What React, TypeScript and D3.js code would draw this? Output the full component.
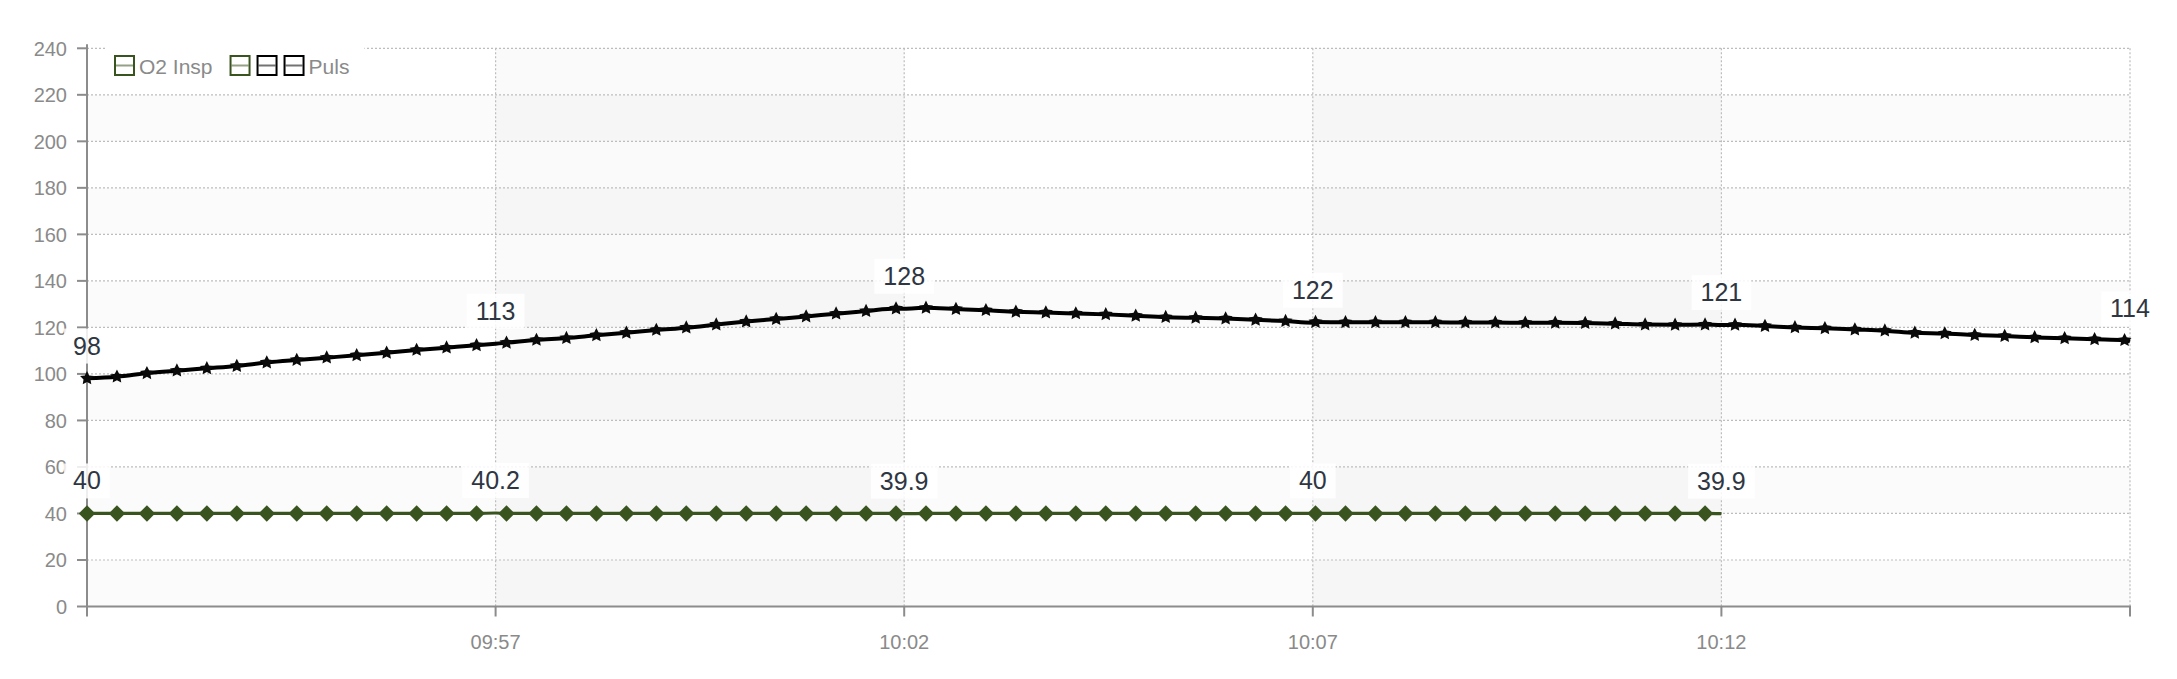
import * as d3 from 'd3'

// sample times (every 22 s)
const SAMPLE_TIMES = [
  '09:52:00', '09:52:22', '09:52:44', '09:53:06', '09:53:28', '09:53:50', '09:54:12', '09:54:34',
  '09:54:56', '09:55:18', '09:55:40', '09:56:02', '09:56:24', '09:56:46', '09:57:08', '09:57:30',
  '09:57:52', '09:58:14', '09:58:36', '09:58:58', '09:59:20', '09:59:42', '10:00:04', '10:00:26',
  '10:00:48', '10:01:10', '10:01:32', '10:01:54', '10:02:16', '10:02:38', '10:03:00', '10:03:22',
  '10:03:44', '10:04:06', '10:04:28', '10:04:50', '10:05:12', '10:05:34', '10:05:56', '10:06:18',
  '10:06:40', '10:07:02', '10:07:24', '10:07:46', '10:08:08', '10:08:30', '10:08:52', '10:09:14',
  '10:09:36', '10:09:58', '10:10:20', '10:10:42', '10:11:04', '10:11:26', '10:11:48', '10:12:10',
  '10:12:32', '10:12:54', '10:13:16', '10:13:38', '10:14:00', '10:14:22', '10:14:44', '10:15:06',
  '10:15:28', '10:15:50', '10:16:12', '10:16:34', '10:16:56',
]

const PULS = [
  98.1, 98.8, 100.3, 101.4, 102.4, 103.4, 104.9, 106, 107, 108, 109.1, 110.3, 111.3, 112.3,
  113.4, 114.6, 115.4, 116.6, 117.7, 118.9, 119.9, 121.2, 122.5, 123.6, 124.7, 125.9, 127,
  128.1, 128.4, 127.9, 127.4, 126.7, 126.4, 126, 125.6, 125, 124.4, 124.1, 123.8, 123.3, 122.7,
  122.3, 122.2, 122.2, 122.2, 122.2, 122.1, 122.1, 122, 122, 121.9, 121.6, 121.2, 121.1,
  121.2, 121.1, 120.6, 120, 119.6, 119.1, 118.6, 117.7, 117.4, 116.7, 116.3, 115.7, 115.3,
  114.9, 114.5,
]

const O2_INSP = [
  40, 40, 40, 40, 40, 40, 40, 40, 40, 40, 40, 40, 40, 40, 40, 40, 40, 40, 40, 40,
  40, 40, 40, 40, 40, 40, 40, 40, 40, 40, 40, 40, 40, 40, 40, 40, 40, 40, 40, 40,
  40, 40, 40, 40, 40, 40, 40, 40, 40, 40, 40, 40, 40, 40, 40,
]

const TICK_TIMES = ['09:52:00', '09:57:00', '10:02:00', '10:07:00', '10:12:00', '10:17:00']
const TICK_LABELS = ['', '09:57', '10:02', '10:07', '10:12', '']
const PULS_LABELS = [98, 113, 128, 122, 121, 114]
const O2_LABELS = [40, 40.2, 39.9, 40, 39.9]
const Y_TICKS = [0, 20, 40, 60, 80, 100, 120, 140, 160, 180, 200, 220, 240]

const LEGEND_NAMES = ['O2 Insp', '', '', 'Puls']

const GREEN = '#3a5420'
const BLACK = '#000000'
const LEGEND_COLORS = [GREEN, GREEN, BLACK, BLACK]
const FONT = '"Liberation Sans", Arial, sans-serif'

const parse = d3.timeParse('%H:%M:%S')

const canvas = document.createElement('canvas')
function textWidth(s: string, size: number) {
  const ctx = canvas.getContext('2d')!
  ctx.font = `${size}px "Liberation Sans"`
  return ctx.measureText(s).width
}

// chunkier five-point star than d3.symbolStar
const boldStar = {
  draw(ctx: any, size: number) {
    const r = Math.sqrt(size) * 0.75
    const ri = r * 0.5
    for (let i = 0; i < 10; i++) {
      const a = (Math.PI / 5) * i - Math.PI / 2
      const rr = i % 2 === 0 ? r : ri
      const px = Math.cos(a) * rr
      const py = Math.sin(a) * rr
      if (i === 0) ctx.moveTo(px, py)
      else ctx.lineTo(px, py)
    }
    ctx.closePath()
  },
}

function buildSeries(values: number[], labels: number[]) {
  const samples = values.map((v, i) => ({ t: parse(SAMPLE_TIMES[i])!, v }))
  const labelPts = labels.map((v, i) => ({ t: parse(TICK_TIMES[i])!, v }))
  const extra = labelPts.filter((l) => !samples.some((s) => +s.t === +l.t))
  const merged = [...samples, ...extra].sort((a, b) => +a.t - +b.t)
  return { samples, labelPts, merged }
}

export default function App() {
  const width = 2177
  const height = 679
  const left = 87
  const right = 2130
  const top = 48.3
  const bottom = 606.5

  const x = d3
    .scaleTime()
    .domain([parse(TICK_TIMES[0])!, parse(TICK_TIMES[TICK_TIMES.length - 1])!])
    .range([left, right])
  const y = d3.scaleLinear().domain([0, 240]).range([bottom, top])

  const puls = buildSeries(PULS, PULS_LABELS)
  const o2 = buildSeries(O2_INSP, O2_LABELS)

  const line = d3
    .line<{ t: Date; v: number }>()
    .x((d) => x(d.t))
    .y((d) => y(d.v))
    .curve(d3.curveMonotoneX)

  const star = d3.symbol(boldStar as any, 95)()!
  const square = d3.symbol(d3.symbolSquare, 135)()!

  const tickDates = TICK_TIMES.map((t) => parse(t)!)

  // legend layout
  let lx = 114
  const legendItems = LEGEND_NAMES.map((name, i) => {
    const item = { name, color: LEGEND_COLORS[i], x: lx }
    lx += 21 + (name ? 4 + textWidth(name, 21) + 17 : 6)
    return item
  })

  const renderLabels = (pts: { t: Date; v: number }[]) =>
    pts.map((d, i) => {
      const cx = x(d.t)
      const by = y(d.v) - 24
      const txt = String(d.v)
      const w = textWidth(txt, 25) + 18
      return (
        <g key={i}>
          <rect x={cx - w / 2} y={by - 26} width={w} height={35} fill='rgba(255,255,255,0.85)' />
          <text x={cx} y={by} textAnchor='middle' fontSize={25} fill='#2e3642' fontFamily={FONT}>
            {txt}
          </text>
        </g>
      )
    })

  return (
    <svg
      width={width}
      height={height}
      style={{ position: 'absolute', left: 0, top: 0, background: '#fff' }}
    >
      {/* row bands */}
      {Y_TICKS.slice(0, -1).map((v, i) =>
        i % 2 === 0 ? (
          <rect
            key={'r' + i}
            x={left}
            y={y(Y_TICKS[i + 1])}
            width={right - left}
            height={y(v) - y(Y_TICKS[i + 1])}
            fill='rgba(0,0,0,0.016)'
          />
        ) : null
      )}
      {/* column bands */}
      {tickDates.slice(0, -1).map((t, i) =>
        i % 2 === 1 ? (
          <rect
            key={'c' + i}
            x={x(t)}
            y={top}
            width={x(tickDates[i + 1]) - x(t)}
            height={bottom - top}
            fill='rgba(0,0,0,0.018)'
          />
        ) : null
      )}

      {/* grid */}
      {Y_TICKS.slice(1).map((v) => (
        <line
          key={'gy' + v}
          x1={left}
          x2={right}
          y1={y(v)}
          y2={y(v)}
          stroke='#bdbdbd'
          strokeWidth={1.2}
          strokeDasharray='2,2'
        />
      ))}
      {tickDates.slice(1).map((t, i) => (
        <line
          key={'gx' + i}
          x1={x(t)}
          x2={x(t)}
          y1={top}
          y2={bottom}
          stroke='#bdbdbd'
          strokeWidth={1.2}
          strokeDasharray='2,2'
        />
      ))}

      {/* legend */}
      <rect x={107} y={40} width={lx - 107 - 2} height={48} fill='#fff' />
      {legendItems.map((d, i) => (
        <g key={'l' + i} transform={`translate(${d.x}, 55)`}>
          <rect x={1} y={1} width={19} height={19} fill='#fff' stroke={d.color} strokeWidth={2} />
          <line x1={2} x2={19} y1={10.5} y2={10.5} stroke={d.color} strokeOpacity={0.55} strokeWidth={2} />
          {d.name && (
            <text x={25} y={19} fontSize={21} fill='#8a8a8a' fontFamily={FONT}>
              {d.name}
            </text>
          )}
        </g>
      ))}

      {/* axes */}
      <line x1={left} x2={left} y1={top - 4} y2={bottom} stroke='#8c8c8c' strokeWidth={2} />
      <line x1={left - 1} x2={right + 1} y1={bottom} y2={bottom} stroke='#8c8c8c' strokeWidth={2} />
      {Y_TICKS.map((v) => (
        <g key={'ty' + v}>
          <line x1={left - 10} x2={left} y1={y(v)} y2={y(v)} stroke='#8c8c8c' strokeWidth={2} />
          <text
            x={left - 20}
            y={y(v)}
            dy='0.36em'
            textAnchor='end'
            fontSize={20}
            fill='#8a8a8a'
            fontFamily={FONT}
          >
            {v}
          </text>
        </g>
      ))}
      {tickDates.map((t, i) => (
        <g key={'tx' + i}>
          <line x1={x(t)} x2={x(t)} y1={bottom} y2={bottom + 10} stroke='#8c8c8c' strokeWidth={2} />
          <text x={x(t)} y={bottom + 42} textAnchor='middle' fontSize={20} fill='#8a8a8a' fontFamily={FONT}>
            {TICK_LABELS[i]}
          </text>
        </g>
      ))}

      {/* O2 Insp */}
      <path d={line(o2.merged)!} fill='none' stroke={GREEN} strokeWidth={3.2} />
      {o2.samples.map((d, i) => (
        <path
          key={'o' + i}
          d={square}
          transform={`translate(${x(d.t)}, ${y(d.v)}) rotate(45)`}
          fill={GREEN}
        />
      ))}

      {/* Puls */}
      <path d={line(puls.merged)!} fill='none' stroke={BLACK} strokeWidth={4} />
      {puls.samples.map((d, i) => (
        <path key={'p' + i} d={star} transform={`translate(${x(d.t)}, ${y(d.v)})`} fill='#0a0a0a' />
      ))}

      {/* value labels */}
      {renderLabels(o2.labelPts)}
      {renderLabels(puls.labelPts)}
    </svg>
  )
}
